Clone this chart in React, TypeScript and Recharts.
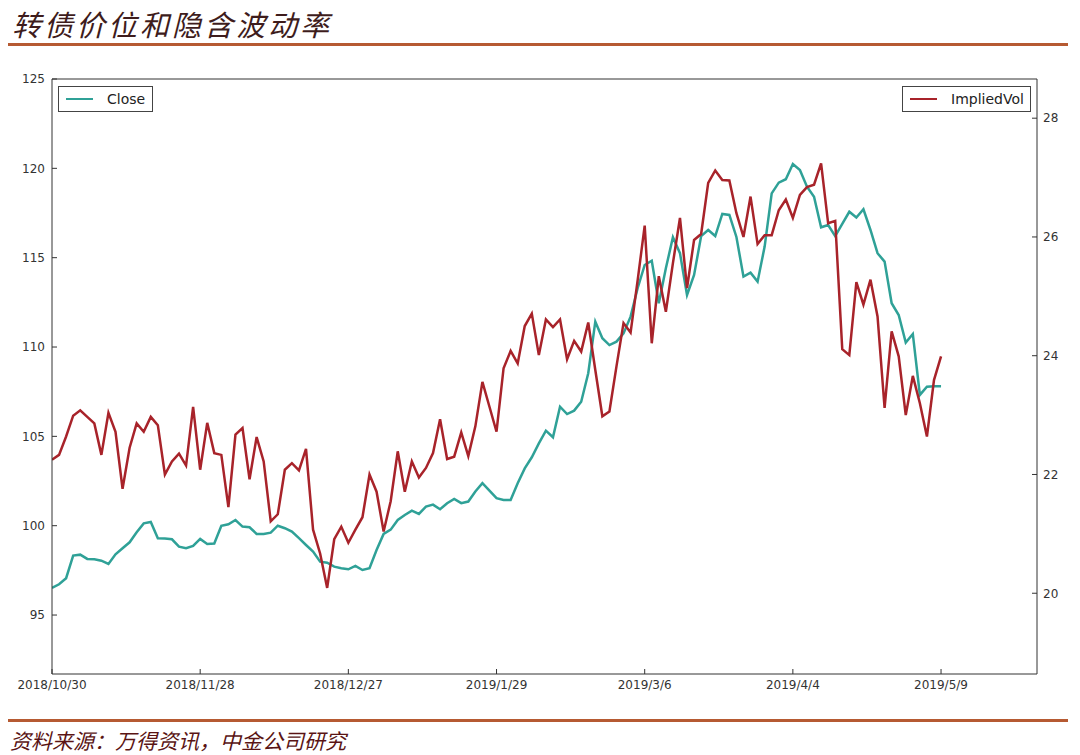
import { LineChart, Line, XAxis, YAxis } from 'recharts';

// 收盘价 (Close), one value per trading day from 2018/10/30 to 2019/5/9
const closeValues = [
  96.52, 96.72, 97.06, 98.33, 98.38, 98.14, 98.12, 98.04, 97.86, 98.4,
  98.74, 99.07, 99.63, 100.13, 100.21, 99.3, 99.28, 99.24, 98.83, 98.74,
  98.87, 99.26, 98.98, 99.0, 99.99, 100.08, 100.32, 99.95, 99.91, 99.54,
  99.54, 99.61, 100.0, 99.86, 99.67, 99.3, 98.92, 98.55, 97.99, 97.93,
  97.71, 97.62, 97.56, 97.75, 97.52, 97.62, 98.64, 99.54, 99.78, 100.32,
  100.6, 100.84, 100.66, 101.07, 101.18, 100.92, 101.26, 101.5, 101.26, 101.35,
  101.91, 102.38, 101.96, 101.54, 101.44, 101.44, 102.38, 103.21, 103.83, 104.61,
  105.32, 104.95, 106.66, 106.25, 106.44, 106.94, 108.53, 111.42, 110.49, 110.11,
  110.3, 110.76, 111.7, 113.29, 114.59, 114.83, 112.45, 114.41, 116.14, 115.25,
  112.91, 114.03, 116.21, 116.55, 116.21, 117.45, 117.39, 116.16, 113.94, 114.16,
  113.66, 115.62, 118.6, 119.2, 119.39, 120.24, 119.91, 118.97, 118.41, 116.7,
  116.83, 116.21, 116.89, 117.57, 117.25, 117.71, 116.55, 115.25, 114.78, 112.45,
  111.79, 110.25, 110.73, 107.32, 107.78, 107.81, 107.81,
];

// 隐含波动率 (ImpliedVol)
const impliedVolValues = [
  22.25, 22.33, 22.64, 22.99, 23.08, 22.97, 22.86, 22.33, 23.04, 22.72,
  21.76, 22.45, 22.86, 22.72, 22.97, 22.83, 22.0, 22.22, 22.35, 22.15,
  23.14, 22.08, 22.87, 22.36, 22.33, 21.45, 22.67, 22.78, 21.92, 22.63,
  22.22, 21.21, 21.33, 22.08, 22.19, 22.07, 22.43, 21.07, 20.67, 20.09,
  20.91, 21.12, 20.85, 21.07, 21.28, 22.0, 21.71, 21.04, 21.55, 22.39,
  21.71, 22.22, 21.95, 22.11, 22.36, 22.93, 22.26, 22.3, 22.71, 22.31,
  22.81, 23.56, 23.14, 22.72, 23.79, 24.08, 23.87, 24.5, 24.71, 24.01,
  24.61, 24.48, 24.61, 23.94, 24.25, 24.07, 24.56, 23.76, 22.98, 23.06,
  23.82, 24.55, 24.39, 25.27, 26.19, 24.21, 25.34, 24.74, 25.56, 26.32,
  25.14, 25.95, 26.05, 26.91, 27.12, 26.96, 26.95, 26.4, 26.0, 26.68,
  25.88, 26.03, 26.03, 26.45, 26.63, 26.32, 26.71, 26.84, 26.88, 27.24,
  26.23, 26.27, 24.11, 24.01, 25.24, 24.86, 25.28, 24.66, 23.12, 24.41,
  23.99, 23.0, 23.66, 23.2, 22.64, 23.59, 23.99,
];

const xTickIndices = [0, 21, 42, 63, 84, 105, 126];
const xTickLabels = ['2018/10/30', '2018/11/28', '2018/12/27', '2019/1/29', '2019/3/6', '2019/4/4', '2019/5/9'];
const leftTicks = [95, 100, 105, 110, 115, 120, 125];
const rightTicks = [20, 22, 24, 26, 28];

const data = closeValues.map((c, i) => ({ i, Close: c, ImpliedVol: impliedVolValues[i] }));

const TEAL = '#2fa197';
const RED = '#a8232a';
const RULE = '#b65a32';

function LegendBox({ name, color, left, width }: { name: string; color: string; left: number; width: number }) {
  return (
    <div
      style={{
        position: 'absolute',
        left,
        top: 86,
        width,
        height: 26,
        border: '1.5px solid #444',
        background: '#fff',
        display: 'flex',
        alignItems: 'center',
        fontFamily: 'DejaVu Sans',
        fontSize: 14,
        color: '#222',
        boxSizing: 'border-box',
      }}
    >
      <span style={{ display: 'inline-block', width: 27, height: 2.5, background: color, marginLeft: 7, marginRight: 14 }} />
      {name}
    </div>
  );
}

export default function App() {
  return (
    <div style={{ position: 'absolute', left: 0, top: 0, width: 1080, height: 755, background: '#fff' }}>
      <div
        style={{
          position: 'absolute',
          left: 12,
          top: 2,
          fontFamily: '"Noto Sans CJK SC"',
          fontStyle: 'italic',
          fontSize: 29,
          letterSpacing: 3,
          color: '#3e1c1c',
        }}
      >
        转债价位和隐含波动率
      </div>
      <div style={{ position: 'absolute', left: 8, top: 43, width: 1060, height: 3, background: RULE }} />

      <div style={{ position: 'absolute', left: 0, top: 0 }}>
        <LineChart
          width={1080}
          height={755}
          data={data}
          margin={{ top: 59, right: 0, bottom: 51, left: 0 }}
          style={{ fontFamily: 'DejaVu Sans' }}
        >
          <XAxis
            dataKey="i"
            type="number"
            domain={[0, 139.6]}
            allowDataOverflow
            ticks={xTickIndices}
            tickFormatter={(v: number) => xTickLabels[xTickIndices.indexOf(v)] ?? ''}
            height={30}
            tickSize={-5}
            tickMargin={11}
            axisLine={{ stroke: '#333', strokeWidth: 1 }}
            tickLine={{ stroke: '#333' }}
            tick={{ fill: '#333', fontSize: 12 }}
            interval={0}
          />
          <XAxis
            xAxisId="top"
            orientation="top"
            dataKey="i"
            type="number"
            domain={[0, 139.6]}
            allowDataOverflow
            ticks={xTickIndices}
            height={20}
            tickSize={-5}
            axisLine={{ stroke: '#333', strokeWidth: 1 }}
            tickLine={{ stroke: '#333' }}
            tick={false}
            interval={0}
          />
          <YAxis
            yAxisId="left"
            domain={[91.7, 125]}
            allowDataOverflow
            ticks={leftTicks}
            width={52}
            tickSize={-5}
            tickMargin={12}
            axisLine={{ stroke: '#333', strokeWidth: 1 }}
            tickLine={{ stroke: '#333' }}
            tick={{ fill: '#333', fontSize: 12 }}
            interval={0}
          />
          <YAxis
            yAxisId="right"
            orientation="right"
            domain={[18.64, 28.66]}
            allowDataOverflow
            ticks={rightTicks}
            width={43}
            tickSize={-5}
            tickMargin={11}
            axisLine={{ stroke: '#333', strokeWidth: 1 }}
            tickLine={{ stroke: '#333' }}
            tick={{ fill: '#333', fontSize: 12 }}
            interval={0}
          />
          <Line
            yAxisId="left"
            type="linear"
            dataKey="Close"
            name="Close"
            stroke={TEAL}
            strokeWidth={2.5}
            dot={false}
            isAnimationActive={false}
          />
          <Line
            yAxisId="right"
            type="linear"
            dataKey="ImpliedVol"
            name="ImpliedVol"
            stroke={RED}
            strokeWidth={2.5}
            dot={false}
            isAnimationActive={false}
          />
        </LineChart>
      </div>

      <LegendBox name="Close" color={TEAL} left={58} width={95} />
      <LegendBox name="ImpliedVol" color={RED} left={902} width={129} />

      <div style={{ position: 'absolute', left: 8, top: 719, width: 1060, height: 3, background: RULE }} />
      <div
        style={{
          position: 'absolute',
          left: 10,
          top: 725,
          fontFamily: '"Noto Sans CJK SC"',
          fontStyle: 'italic',
          fontSize: 21,
          color: '#5a1414',
        }}
      >
        资料来源：万得资讯，中金公司研究
      </div>
    </div>
  );
}
